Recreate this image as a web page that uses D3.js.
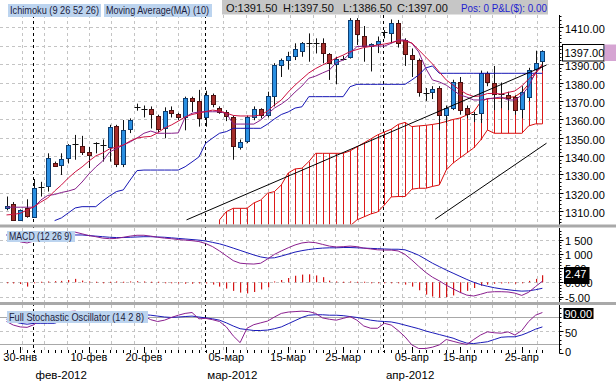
<!DOCTYPE html>
<html><head><meta charset="utf-8">
<script src="https://cdn.jsdelivr.net/npm/d3@7/dist/d3.min.js"></script>
<style>html,body{margin:0;padding:0;background:#fff;}svg{display:block;font-family:"Liberation Sans",Arial,sans-serif;}</style>
</head><body>
<svg id="chart" width="616" height="382"></svg>
<script>
// ---------- DATA ----------
const dates = ["01-27","01-29","01-30","01-31",
"02-01","02-02","02-03","02-05","02-06","02-07","02-08","02-09","02-10","02-12","02-13","02-14","02-15","02-16","02-17","02-19","02-20","02-21","02-22","02-23","02-24","02-26","02-27","02-28","02-29",
"03-01","03-02","03-04","03-05","03-06","03-07","03-08","03-09","03-11","03-12","03-13","03-14","03-15","03-16","03-18","03-19","03-20","03-21","03-22","03-23","03-25","03-26","03-27","03-28","03-29","03-30",
"04-01","04-02","04-03","04-04","04-05","04-08","04-09","04-10","04-11","04-12","04-13","04-15","04-16","04-17","04-18","04-19","04-20","04-22","04-23","04-24","04-25","04-26","04-27","04-29"];

const open = [1311.7,1313.8,1305.3,1311.5,1307, 1323.3,1323.5,1336.4,1335.2,1338.8, 1346.3,1345.5,1342,1347,1346,
 1345,1356.4,1335.7,1354.6,1366.8, 1365.8,1365.5,1361.8,1355,1365, 1362.7,1361,1371.4,1370,1361,
 1373.2,1366.3,1364,1361,1345, 1348,1361,1365.5,1362,1372.7, 1389.2,1392,1394.4,1396.7,1401.3,
 1401.5,1401.6,1395.3,1390.4,1393, 1394,1414,1405.3,1399.8,1400.8, 1407.3,1406.7,1412.2,1403,1395,
 1392,1374.5,1374.5,1376.8,1362.3, 1366,1380.4,1366,1363,1363.3, 1385,1379.6,1374,1373.2,1372.3,
 1365.5,1372.3,1387.7,1391.5];
const high = [1318,1315,1311,1316.5,1327.5, 1326,1341.5,1337,1341.5,1346.5, 1351.5,1351,1345,1347.5,1349,
 1357,1357,1359.6,1360.5,1368.5, 1367.5,1367,1362.5,1366.5,1367, 1363.5,1372.3,1372.3,1376,1375.5,
 1374,1367,1365,1362,1349, 1362,1367,1366,1375,1390.5, 1393,1396.7,1401.3,1402,1406.7,
 1404,1404,1396,1394,1394.5, 1415,1415,1410.7,1401.3,1405, 1408.5,1414.3,1414,1404,1398.5,
 1393,1377,1378,1378,1367.5, 1381.5,1383,1367.5,1364,1386.5, 1386,1389,1380,1375,1373,
 1378,1388,1397.3,1397.5];
const low = [1310.5,1305,1304.8,1306.5,1306.5, 1318,1320.7,1334.5,1329.7,1336, 1338,1340.6,1333.5,1341.5,1337,
 1337,1334,1334,1352.5,1364.7, 1361,1355,1353,1349.7,1361, 1359.5,1354,1364,1356,1356,
 1366.5,1363,1359,1338,1343.5, 1347,1359.5,1360.5,1361,1367, 1383,1387,1392.2,1394,1391.3,
 1395.8,1390.4,1381.4,1379,1392, 1393,1400.4,1391.3,1386,1396, 1404,1401.3,1399,1389,1383,
 1372.3,1370,1371,1354,1358, 1365,1362.5,1360.5,1358.5,1358, 1378,1365,1366,1365,1362.5,
 1360.5,1370,1385,1386.5];
const close = [1312.8,1305.3,1310.5,1307,1322.5, 1323.3,1338.8,1335,1338.4,1346, 1346.3,1342.3,1340.6,1347,1346,
 1356,1335.7,1354.2,1359.6,1366.8, 1365.8,1363,1355,1364.5,1363.3, 1361.2,1371.4,1370,1361,1373.2,
 1368.3,1364.2,1361.8,1345,1347.5, 1361,1365.5,1362,1372.5,1389.5, 1392,1394.4,1398,1401.3,1401.3,
 1401.5,1396,1390.4,1393,1393, 1414,1406.4,1399.8,1400.8,1402.7, 1407.3,1412.2,1401.5,1395.5,1392.6,
 1374.5,1374.5,1376.3,1362.3,1366, 1380.4,1365,1362.5,1363,1385, 1380,1373.8,1374,1371.4,1365.5,
 1375,1386.8,1390.8,1397];

// Ichimoku (9 26 52 26)
const tenkan = [1312.2,1312.2,1312.2,1312.2,1312.2, 1316.1,1318.6,1319.1,1320.2,1321, 1322.1,1325.9,1330.3,1334.1,1337.3,
 1342.2,1344.1,1346,1347.7,1349.8, 1352.4,1353.6,1352.4,1352.4,1352.4, 1352.6,1361.1,1363.3,1364,1364.1,
 1364.1,1364.1,1363.3,1357.4,1357.4, 1357.4,1357.4,1359.6,1362.9,1366.1, 1368.3,1371,1374.8,1378.1,1382.3,
 1383.5,1385.2,1386.8,1390.8,1392.2, 1395.9,1399.5,1399.8,1399.8,1399.8, 1399.8,1401.3,1403.1,1403.1,1401.3,
 1396.6,1387.9,1381.4,1380.3,1378.6, 1375.9,1373.2,1372.1,1370.5,1370.5, 1371,1371.6,1372.1,1370.5,1370.5,
 1373.2,1377.7,1385.7,1389];
const kijun = [null,null,null,null,null, null,null,1304.9,1306.4,1309.1, 1311.8,1312.5,1312.5,1312.5,1315.6,
 1318.3,1320.7,1321.6,1327,1332.1, 1332.4,1332.4,1332.4,1332.4,1332.4, 1332.4,1334.2,1336.8,1339.5,1347,
 1349.8,1352.4,1353.3,1355.1,1355.1, 1355.1,1355.1,1355.1,1357.4,1360.2, 1362.6,1364,1366.1,1366.8,1372.3,
 1372.3,1372.3,1372.3,1372.3,1372.3, 1377.7,1379,1379,1379,1379, 1379,1379,1379,1379,1381.4,
 1384.1,1387.9,1389,1385,1385, 1385,1385,1385,1385,1385, 1385,1385,1385,1385,1385,
 1385,1385,1385,1385];
const spanA = [null,null,null,null,null, null,null,null,null,null, null,null,null,null,null,
 null,null,null,null,null, null,null,null,null,null, null,null,null,null,null,
 null,1305.3,1309.8,1311.6,1311.6, 1311.6,1314.5,1316.1,1319.8,1320.7, 1324.3,1330.8,1333,1333.4,1337,
 1341.5,1341.5,1341.5,1341.5,1341.5, 1342.8,1345,1347.1,1349.3,1351.5, 1353.1,1354.6,1357.2,1358.3,1356,
 1356.4,1356.7,1357.2,1357.8,1358.8, 1359.9,1360.7,1362.3,1364,1369.4, 1371.3,1371.4,1371.4,1371.8,1372.3,
 1374.8,1379.2,1384.9,1390];
const spanB = [null,null,null,null,null, null,null,null,null,null, null,null,null,null,null,
 null,null,null,null,null, null,null,null,null,null, null,null,null,null,null,
 null,1288,1288,1289,1290, 1290,1291,1292,1292,1293, 1294,1294,1295,1295,1296,
 1297,1298,1299,1300,1301, 1302,1305.3,1306.9,1308.5,1309.6, 1313.4,1317.8,1318,1318,1322,
 1322.5,1322.5,1323.5,1324.3,1332.4, 1336.2,1339,1341.7,1344.4,1348.7, 1354.2,1352.4,1352.4,1352.4,1352.4,
 1352.4,1356.4,1357.5,1357.5];
// Moving Average (10)
const ma10 = [1308,1308.3,1308.9,1310.7,1312.5, 1315,1317.2,1321,1324.3,1328.1, 1331.4,1334.1,1337.3,1340.1,1341.7,
 1343.9,1344.9,1346,1348.2,1349.8, 1350.4,1350.7,1352.6,1355.3,1356.9, 1359,1361.3,1362.6,1363.4,1364.2,
 1365,1364.5,1363.4,1362.1,1361.8, 1361.8,1361.8,1362.3,1364.5,1367.8, 1370.5,1374.8,1378.6,1381.9,1385.2,
 1387.6,1389.5,1391.4,1393.3,1394.9, 1396.8,1397.9,1399,1399.6,1400.4, 1400.9,1401.7,1402.6,1402.6,1401.5,
 1397.7,1393.9,1390.1,1385.7,1381.4, 1378.6,1375.9,1373.7,1372.4,1372.7, 1374,1374.1,1373.7,1374.6,1375.4,
 1378.1,1381.9,1385.4,1388.7];
// trend lines drawn on the chart: [barIndex, price]
const trendLines = [[[26.2,1305.3],[78.6,1389.5]], [[62.4,1305.7],[78.6,1347.0]]];

// MACD (12 26 9)
const macd = [16.6,15.5,14.2,13.8,14.5, 15.5,16.5,17.2,17.6,17.8, 17.6,17,16.4,16,15.5,
 15.3,15.4,15.8,16.2,16.5, 16.5,16.2,15.8,15.5,15.3, 15,14.8,14.6,14.3,13.6,
 12.5,11,9.3,7.6,6.7, 6.5,6.4,6.7,8.2,9.8, 11,12.1,13.1,13.8,14.1,
 13.9,13.3,12.7,12.4,12.5, 12.7,12.5,12,11.7,11.4, 11.3,11.3,11,9.8,7.8,
 5.6,3.5,1.8,0.5,-1, -2.3,-3.5,-4.5,-4.8,-4.2, -3.5,-3.3,-3.3,-3.4,-3.8,
 -4.6,-3.5,-1.5,0.4];
const signal = [16.6,16.5,16.3,16.1,16, 16,16.1,16.2,16.4,16.5, 16.6,16.6,16.4,16.2,16,
 15.8,15.7,15.7,15.8,15.9, 16,16,15.9,15.8,15.6, 15.4,15.2,15,14.8,14.5,
 14,13.5,12.8,12,11.2, 10.4,9.6,8.9,8.5,8.6, 9.2,9.9,10.6,11.1,11.5,
 11.8,12,12.1,12.1,12.2, 12.2,12.1,12,11.9,11.8, 11.7,11.6,11.6,11.4,10.5,
 9.5,8.1,6.7,5.5,4.3, 3.2,2.1,1,0,-0.8, -1.4,-1.9,-2.3,-2.6,-2.9,
 -3.1,-3,-2.6,-2.1];
const hist = [-0.3,-0.4,-0.6,-1.5,-0.3, 0.2,0.3,0.4,0.5,0.8, 1.2,0.6,0.3,0.2,-0.2,
 0.2,0.3,0.2,0.3,0.4, 0.3,0.2,0.2,-0.2,-0.3, -0.4,-0.5,-0.5,-0.4,-0.4,
 -0.8,-1.5,-2.2,-3,-3.6, -3.9,-3.4,-2.5,-1.8,0.3, 0.8,1.5,2.3,2.7,2.8,
 2.4,1.8,0.6,0.3,0.2, 0.3,0.2,0.2,-0.2,-0.2, -0.2,-0.2,-0.3,-0.8,-1.5,
 -2.8,-4.3,-5,-5.4,-5.2, -4.6,-3.8,-3,-2,-1.2, -0.8,-0.5,-0.4,-0.3,-0.5,
 -0.2,0.5,1.2,2.47];
// Full Stochastic Oscillator (14 2 8)
const stochK = [70,62,58,57,63, 75,88,90,88,92, 93,88,82,85,85,
 90,80,88,92,86, 82,74,70,73,79, 84,88,90,76,77,
 74,70,58,38,23, 55,63,67,71,80, 88,91,92,93,92,
 88,78,75,73,77, 81,73,60,55,55, 66,62,50,36,18,
 10,10,13,18,30, 26,22,19,30,40, 47,45,44,47,40,
 50,70,84,90];
const stochD = [75,70,66,64,66, 66,66,66,72,78, 82,85,86,86,85,
 85,86,86,86,87, 85,84,82,80,79, 80,81,82,80,78,
 76,73,67,60,54, 52,50,50,51,54, 58,65,72,79,84,
 85,85,84,84,83, 81,79,76,73,71, 70,69,66,62,58,
 54,49,45,41,37, 33,27,22,21,23, 25,30,35,36,36,
 40,46,53,58];

const priceTicks = [1310,1320,1330,1340,1350,1360,1370,1380,1390,1400,1410];
const macdTicks = [15,10,5,0,-5];
const macdTickLabels = ["1 500","1 000","5.00","0.000","-5.00"];
const stochTicks = [50,0];
const stochTickLabels = ["50","0"];
const stochLevels = [80,20];
const dateTicks = [["01-30","30-янв"],["02-10","10-фев"],["02-20","20-фев"],["03-05","05-мар"],["03-15","15-мар"],
 ["03-25","25-мар"],["04-05","05-апр"],["04-15","15-апр"],["04-25","25-апр"]];
const monthStarts = [["02-01","фев-2012"],["03-01","мар-2012"],["04-01","апр-2012"]];

// ---------- LAYOUT ----------
const svg = d3.select("#chart");
const AX = 559.5;
const M = {top:15, bot:224.5}, MC = {top:228, bot:302}, ST = {top:305, bot:353};
const x = d3.scalePoint().domain(dates).range([6.5, 542.4]);
const xi = d3.scaleLinear().domain([0, dates.length-1]).range([6.5, 542.4]);
const yP = d3.scaleLinear().domain([1302.8, 1416.7]).range([M.bot, M.top]);
const yM = d3.scaleLinear().domain([-6.91, 19.05]).range([MC.bot, MC.top]);
const yS = d3.scaleLinear().domain([0, 106.7]).range([ST.bot, ST.top]);
const last = dates.length - 1;

svg.append("rect").attr("width",616).attr("height",382).attr("fill","#fff");
const defs = svg.append("defs");
[["cm",M],["cmc",MC],["cst",ST]].forEach(([id,p])=>{
  defs.append("clipPath").attr("id",id).append("rect").attr("x",0).attr("y",p.top).attr("width",AX).attr("height",p.bot-p.top);
});

const GRID = "#c4c4c4";
// vertical grid (fixed pixel spacing)
const vGrid = d3.range(21.7, AX-5, 22.4);
[M,MC,ST].forEach(p=>{
  svg.append("g").selectAll("line").data(vGrid).join("line")
    .attr("x1",d=>Math.round(d)+0.5).attr("x2",d=>Math.round(d)+0.5).attr("y1",p.top).attr("y2",p.bot)
    .attr("stroke",GRID).attr("stroke-dasharray","3,3");
});
// horizontal grid
svg.append("g").selectAll("line").data(priceTicks).join("line")
  .attr("x1",0).attr("x2",AX).attr("y1",d=>Math.round(yP(d))+0.5).attr("y2",d=>Math.round(yP(d))+0.5)
  .attr("stroke",GRID).attr("stroke-dasharray","3,3");
svg.append("g").selectAll("line").data(macdTicks).join("line")
  .attr("x1",0).attr("x2",AX).attr("y1",d=>Math.round(yM(d))+0.5).attr("y2",d=>Math.round(yM(d))+0.5)
  .attr("stroke",GRID).attr("stroke-dasharray","3,3");
svg.append("line").attr("x1",0).attr("x2",AX).attr("y1",Math.round(yS(50))+0.5).attr("y2",Math.round(yS(50))+0.5)
  .attr("stroke",GRID).attr("stroke-dasharray","3,3");
svg.append("g").selectAll("line").data(stochLevels).join("line")
  .attr("x1",0).attr("x2",AX).attr("y1",d=>Math.round(yS(d))+0.5).attr("y2",d=>Math.round(yS(d))+0.5)
  .attr("stroke","#a8a8a8").attr("stroke-width",1);

// month separators
svg.append("g").selectAll("line").data(monthStarts).join("line")
  .attr("x1",d=>Math.round(x(d[0]))-0.5).attr("x2",d=>Math.round(x(d[0]))-0.5).attr("y1",M.top).attr("y2",ST.bot-1)
  .attr("stroke","#000").attr("stroke-dasharray","3,3");

// ---------- MAIN PANEL ----------
const gM = svg.append("g").attr("clip-path","url(#cm)");
const cloud = dates.map((d,j)=>({d,a:spanA[j],b:spanB[j]})).filter(c=>c.a!=null);
gM.append("g").selectAll("line").data(cloud).join("line")
  .attr("x1",c=>Math.round(x(c.d))+0.5).attr("x2",c=>Math.round(x(c.d))+0.5)
  .attr("y1",c=>yP(c.a)).attr("y2",c=>yP(c.b)).attr("stroke","#dc1818").attr("stroke-width",1);
const lineP = arr => d3.line().defined(d=>d!=null).x((d,j)=>x(dates[j])).y(d=>yP(d))(arr);
gM.append("path").attr("d",lineP(spanA)).attr("fill","none").attr("stroke","#d80c0c").attr("stroke-width",1);
gM.append("path").attr("d",lineP(spanB)).attr("fill","none").attr("stroke","#d80c0c").attr("stroke-width",1);

// candles
const candles = dates.map((d,j)=>({d,o:open[j],h:high[j],l:low[j],c:close[j]}));
const gC = gM.append("g");
gC.selectAll("line.w").data(candles).join("line").attr("class","w")
  .attr("x1",d=>Math.round(x(d.d))+0.5).attr("x2",d=>Math.round(x(d.d))+0.5)
  .attr("y1",d=>yP(d.h)).attr("y2",d=>yP(d.l)).attr("stroke","#111").attr("stroke-width",1);
gC.selectAll("rect.b").data(candles.filter(d=>d.o!==d.c)).join("rect").attr("class","b")
  .attr("x",d=>Math.round(x(d.d))-1.5).attr("width",4)
  .attr("y",d=>Math.round(yP(Math.max(d.o,d.c)))+0.5)
  .attr("height",d=>Math.max(1,Math.round(Math.abs(yP(d.o)-yP(d.c)))))
  .attr("fill",d=>d.c>d.o?"#2a8fe2":"#a52d2a")
  .attr("stroke",d=>d.c>d.o?"#0d3d70":"#4e1010").attr("stroke-width",1);
gC.selectAll("line.dj").data(candles.filter(d=>d.o===d.c)).join("line").attr("class","dj")
  .attr("x1",d=>Math.round(x(d.d))-2.5).attr("x2",d=>Math.round(x(d.d))+3.5)
  .attr("y1",d=>Math.round(yP(d.o))+0.5).attr("y2",d=>Math.round(yP(d.o))+0.5).attr("stroke","#111");

gM.append("path").attr("d",lineP(kijun)).attr("fill","none").attr("stroke","#1616b4").attr("stroke-width",1);
gM.append("path").attr("d",lineP(tenkan)).attr("fill","none").attr("stroke","#86208a").attr("stroke-width",1);
gM.append("path").attr("d",lineP(ma10)).attr("fill","none").attr("stroke","#cc1040").attr("stroke-width",1);
gM.append("g").selectAll("line").data(trendLines).join("line")
  .attr("x1",t=>xi(t[0][0])).attr("y1",t=>yP(t[0][1])).attr("x2",t=>xi(t[1][0])).attr("y2",t=>yP(t[1][1]))
  .attr("stroke","#000").attr("stroke-width",1);

// ---------- MACD ----------
const gMC = svg.append("g").attr("clip-path","url(#cmc)");
gMC.append("g").selectAll("rect").data(hist.map((v,j)=>({d:dates[j],v}))).join("rect")
  .attr("x",d=>Math.round(x(d.d))).attr("width",1.2)
  .attr("y",d=>Math.min(yM(0),yM(d.v))).attr("height",d=>Math.max(1,Math.abs(yM(d.v)-yM(0))))
  .attr("fill","#d41414");
const lineM = arr => d3.line().x((d,j)=>x(dates[j])).y(d=>yM(d))(arr);
gMC.append("path").attr("d",lineM(signal)).attr("fill","none").attr("stroke","#1a1ab8").attr("stroke-width",1);
gMC.append("path").attr("d",lineM(macd)).attr("fill","none").attr("stroke","#8a1f8e").attr("stroke-width",1);

// ---------- STOCH ----------
const gST = svg.append("g").attr("clip-path","url(#cst)");
const lineS = arr => d3.line().x((d,j)=>x(dates[j])).y(d=>yS(d))(arr);
gST.append("path").attr("d",lineS(stochD)).attr("fill","none").attr("stroke","#1a1ab8").attr("stroke-width",1);
gST.append("path").attr("d",lineS(stochK)).attr("fill","none").attr("stroke","#8a1f8e").attr("stroke-width",1);

// separators
svg.append("rect").attr("x",0).attr("y",M.bot).attr("width",616).attr("height",3).attr("fill","#a9a9a9");
svg.append("rect").attr("x",0).attr("y",MC.bot).attr("width",616).attr("height",3).attr("fill","#a9a9a9");

// ---------- RIGHT AXES ----------
const ax = svg.append("g").attr("font-size",11).attr("fill","#000");
function vaxis(p){ ax.append("line").attr("x1",AX).attr("x2",AX).attr("y1",p.top).attr("y2",p.bot).attr("stroke","#000"); }
[M,MC,ST].forEach(vaxis);
function ticks(vals, sc, len){
  ax.append("g").selectAll("line").data(vals).join("line")
    .attr("x1",AX).attr("x2",AX+len).attr("y1",d=>Math.round(sc(d))+0.5).attr("y2",d=>Math.round(sc(d))+0.5).attr("stroke","#000");
}
ticks(d3.range(1304,1417,2), yP, 2); ticks(priceTicks, yP, 4);
ticks(d3.range(-6,19,1), yM, 2); ticks(macdTicks, yM, 4);
ticks(d3.range(0,101,10), yS, 2); ticks(stochTicks, yS, 4);
ax.append("g").selectAll("text").data(priceTicks).join("text")
  .attr("x",565).attr("y",d=>yP(d)+6).text(d=>d.toFixed(2));
ax.append("g").selectAll("text").data(macdTicks).join("text")
  .attr("x",565).attr("y",d=>yM(d)+5).text((d,i)=>macdTickLabels[i]);
ax.append("g").selectAll("text").data(stochTicks).join("text")
  .attr("x",565).attr("y",d=>Math.min(yS(d)+6,356)).text((d,i)=>stochTickLabels[i]);

// last-value boxes
const pb = yP(close[last]);
ax.append("rect").attr("x",562.5).attr("y",Math.round(pb)-6.5).attr("width",41.5).attr("height",16.5).attr("fill","#fff").attr("stroke","#000");
ax.append("rect").attr("x",604.5).attr("y",Math.round(pb)-6.5).attr("width",12).attr("height",16.5).attr("fill","#d6a5d3");
ax.append("text").attr("x",564.5).attr("y",Math.round(pb)+6).text(close[last].toFixed(2));
const mb = yM(hist[last]);
ax.append("rect").attr("x",564).attr("y",Math.round(mb)-8).attr("width",25.5).attr("height",17).attr("fill","#000");
ax.append("text").attr("x",565).attr("y",Math.round(mb)+3).attr("fill","#fff").text(hist[last].toFixed(2));
const sb = yS(stochK[last]);
ax.append("rect").attr("x",563.5).attr("y",Math.round(sb)-5).attr("width",30).attr("height",11).attr("fill","#000");
ax.append("text").attr("x",564.5).attr("y",Math.round(sb)+4.5).attr("fill","#fff").text(stochK[last].toFixed(2));

// ---------- X AXIS ----------
const xa = svg.append("g");
xa.selectAll("line.mn").data(dates).join("line").attr("class","mn")
  .attr("x1",d=>Math.round(x(d))+0.5).attr("x2",d=>Math.round(x(d))+0.5).attr("y1",ST.bot-3).attr("y2",ST.bot).attr("stroke","#000");
xa.selectAll("line.mj").data(dateTicks).join("line").attr("class","mj")
  .attr("x1",d=>Math.round(x(d[0]))+0.5).attr("x2",d=>Math.round(x(d[0]))+0.5).attr("y1",ST.bot-6).attr("y2",ST.bot).attr("stroke","#000");
xa.selectAll("text.dt").data(dateTicks).join("text").attr("class","dt")
  .attr("x",d=>x(d[0])).attr("y",361).attr("text-anchor","middle").attr("font-size",11).text(d=>d[1]);
xa.selectAll("text.mo").data(monthStarts).join("text").attr("class","mo")
  .attr("x",d=>x(d[0])+1.5).attr("y",379).attr("font-size",11.5).text(d=>d[1]);

// ---------- LABELS ----------
function tag(x0,y0,w,h,txt,fs,tl){
  svg.append("rect").attr("x",x0).attr("y",y0).attr("width",w).attr("height",h).attr("fill","#bcd4ef");
  const t = svg.append("text").attr("x",x0+2).attr("y",y0+h/2+fs*0.36).attr("font-size",fs).attr("fill","#1c1c3c").text(txt);
  if (tl) t.attr("textLength",tl).attr("lengthAdjust","spacingAndGlyphs");
}
tag(8,4,93,13,"Ichimoku (9 26 52 26)",10.5,89);
tag(104,4,108,13,"Moving Average(MA) (10)",10.5,103);
tag(7,231,68,11,"MACD (12 26 9)",10,63);
tag(7,311,141,12,"Full Stochastic Oscillator (14 2 8)",10.5,135);

svg.append("rect").attr("x",222).attr("y",0).attr("width",326).attr("height",14.5).attr("fill","#c6c6c6");
const hdr = [["O:"+open[last].toFixed(2),226],["H:"+high[last].toFixed(2),283],["L:"+low[last].toFixed(2),343],["C:"+close[last].toFixed(2),397]];
svg.append("g").selectAll("text").data(hdr).join("text").attr("x",d=>d[1]).attr("y",11.5).attr("font-size",11).attr("fill","#111").text(d=>d[0]);
svg.append("text").attr("x",461).attr("y",11.5).attr("font-size",11).attr("fill","#1f1fd0")
  .attr("textLength",86).attr("lengthAdjust","spacingAndGlyphs").text("Pos: 0 P&L($): 0.00");
</script></body></html>
